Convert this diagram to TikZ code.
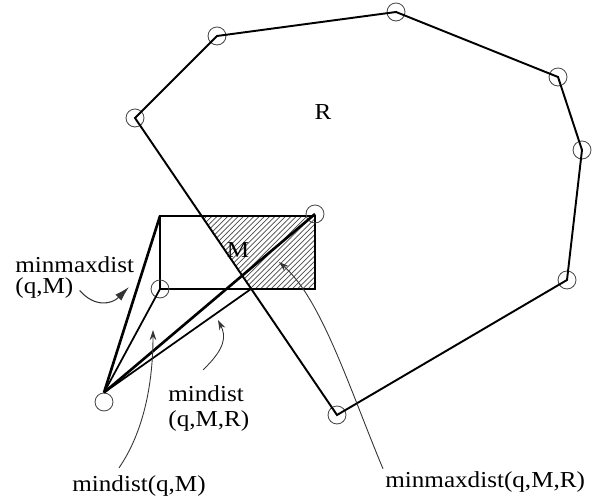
\documentclass[tikz,border=0pt]{standalone}
\usepackage{fontspec}
\setmainfont{Liberation Serif}
\usetikzlibrary{arrows.meta,calc,patterns}
\definecolor{ringGray}{HTML}{4A4A4A}
\definecolor{noteGray}{HTML}{333333}

\begin{document}
\begin{tikzpicture}[x=0.02cm,y=-0.02cm,
    vtx/.style={circle,draw=ringGray,line width=0.5pt,minimum size=0.36cm,inner sep=0pt},
    edge/.style={black,line width=1.1pt},
    mbr/.style={black,line width=0.6pt},
    far/.style={black,line width=1.5pt},
    near/.style={black,line width=1.0pt},
    lbl/.style={font=\fontsize{13}{15}\selectfont,xscale=1.1,transform shape,inner sep=0pt},
    note/.style={-{Stealth[length=2mm,width=1.3mm]},noteGray,line width=0.5pt},
    bold note/.style={-{Latex[length=3mm,width=1.7mm]},noteGray,line width=0.6pt}]

  \useasboundingbox (0,0) rectangle (592,502);

  % region R
  \node[vtx] (vA) at (135,118) {};
  \node[vtx] (vB) at (217,36)  {};
  \node[vtx] (vC) at (396,12)  {};
  \node[vtx] (vD) at (558,77)  {};
  \node[vtx] (vE) at (582,150) {};
  \node[vtx] (vF) at (567,280) {};
  \node[vtx] (vG) at (337,415) {};
  \node[lbl] (lbR) at (323,112) {R};

  % MBR M
  \coordinate (mtl) at (160,216);
  \coordinate (mtr) at (315,216);
  \coordinate (mbr) at (315,289);
  \coordinate (mbl) at (160,289);
  \coordinate (mx)  at (251,289);
  \begin{scope}
    \clip (mtl) rectangle (mbr);
    \fill[pattern=north east lines,pattern color=ringGray]
      (vA.center) -- (vG.center) -- (600,415) -- (600,118) -- cycle;
  \end{scope}
  \draw[mbr] (mtl) rectangle (mbr);
  \node[vtx] (cTR) at (315,214) {};
  \node[vtx] (cBL) at (160,289) {};
  \node[lbl] (lbM) at (238,250) {M};

  \draw[edge] (vA.center) -- (vB.center) -- (vC.center) -- (vD.center)
    -- (vE.center) -- (vF.center) -- (vG.center) -- cycle;

  % query point q
  \node[vtx] (q) at (104,402) {};
  \draw[far]  (q.north) -- (mtl);
  \draw[far]  (q.north) -- (cTR.center);
  \draw[near] (q.north) -- (cBL.center);
  \draw[near] (q.north) -- (mx);

  % labels
  \node[lbl,anchor=base west] (lbMmdA) at (15,273)  {minmaxdist};
  \node[lbl,anchor=base west] (lbMmdB) at (15,294)  {(q,M)};
  \node[lbl,anchor=base west] (lbMdA)  at (168,402) {mindist};
  \node[lbl,anchor=base west] (lbMdB)  at (168,427) {(q,M,R)};
  \node[lbl,anchor=base west] (lbMdM)  at (72,492)  {mindist(q,M)};
  \node[lbl,anchor=base west] (lbMmdR) at (385,488) {minmaxdist(q,M,R)};

  \draw[bold note] ($(lbMmdB.east)+(6,2)$) .. controls (95,308) and (112,304) .. (129,287);
  \draw[note] ($(lbMdA.north)+(-3,-16)$) .. controls (226,348) and (226,336) .. (218,320);
  \draw[note] ($(lbMdM.north)+(-20,-8)$) .. controls (145,430) and (153,380) .. (153,330);
  \draw[note] ($(lbMmdR.north west)+(-2,-3)$) .. controls (350,390) and (322,300) .. (279,262);
\end{tikzpicture}
\end{document}
